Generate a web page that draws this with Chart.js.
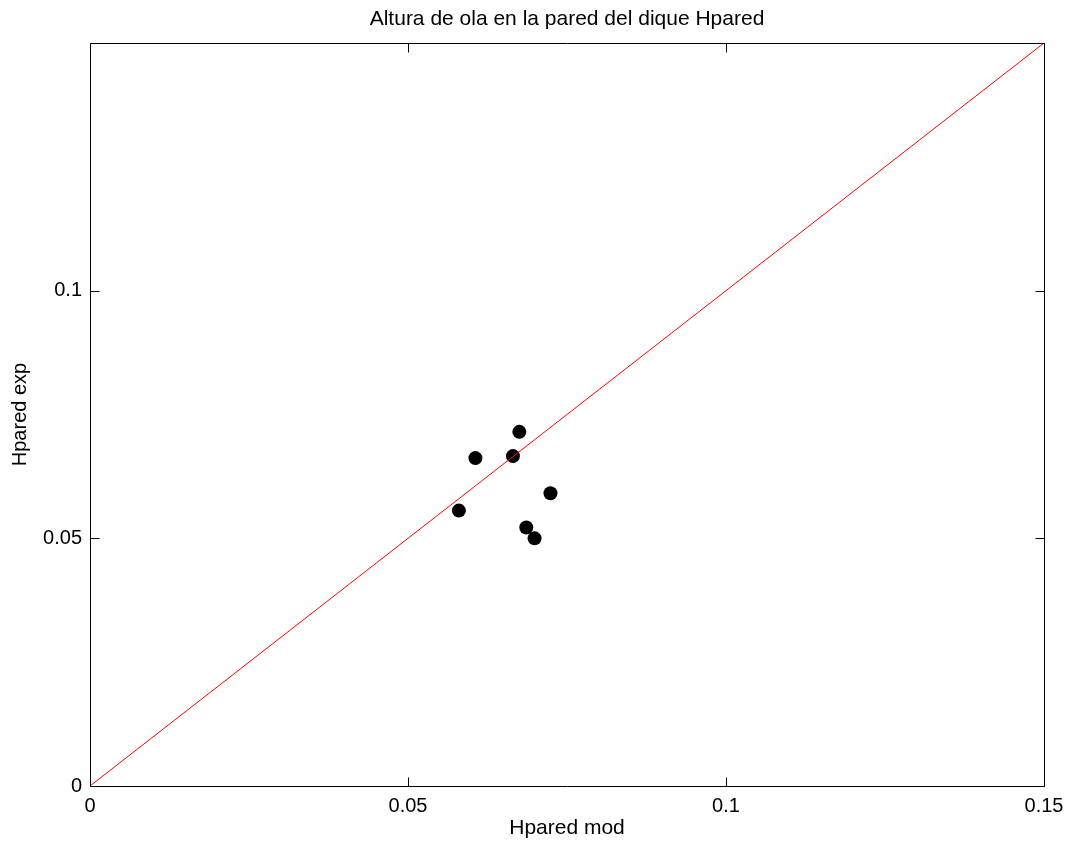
<!DOCTYPE html>
<html>
<head>
<meta charset="utf-8">
<title>Altura de ola en la pared del dique Hpared</title>
<script src="https://cdn.jsdelivr.net/npm/chart.js@4/dist/chart.umd.min.js"></script>
<style>
  html, body { margin: 0; padding: 0; background: #fff; }
  canvas { display: block; }
</style>
</head>
<body>
<canvas id="myChart" width="1074" height="843"></canvas>
<script>
// wave height at the wall: model vs. experiment
const hparedMod = [0.0580, 0.0606, 0.0665, 0.0675, 0.0724, 0.0686, 0.0699];
const hparedExp = [0.0556, 0.0662, 0.0666, 0.0715, 0.0591, 0.0522, 0.0500];

// 1:1 line
const lineX = [0, 0.15];
const lineY = [0, 0.15];

const xTicks = [0, 0.05, 0.1, 0.15];
const yTicks = [0, 0.05, 0.1];

const FAMILY = '"Liberation Sans", Arial, Helvetica, sans-serif';
const FONT = { family: FAMILY, size: 20, weight: 'normal' };
const TITLE_FONT = { family: FAMILY, size: 21, weight: 'normal', lineHeight: '24px' };

// box round the plot with inward ticks on all four sides
const frame = {
  id: 'frame',
  afterDraw(chart) {
    const { ctx, chartArea: a, scales } = chart;
    const len = 9;
    const px = v => Math.round(v) + 0.5;
    const l = px(a.left), r = px(a.right), t = px(a.top), b = px(a.bottom);
    ctx.save();
    ctx.strokeStyle = '#000';
    ctx.lineWidth = 1;
    ctx.beginPath();
    ctx.rect(l, t, r - l, b - t);
    xTicks.forEach(v => {
      const x = px(scales.x.getPixelForValue(v));
      ctx.moveTo(x, b); ctx.lineTo(x, b - len);
      ctx.moveTo(x, t); ctx.lineTo(x, t + len);
    });
    yTicks.forEach(v => {
      const y = px(scales.y.getPixelForValue(v));
      ctx.moveTo(l, y); ctx.lineTo(l + len, y);
      ctx.moveTo(r, y); ctx.lineTo(r - len, y);
    });
    ctx.stroke();
    ctx.restore();
  }
};

const ctx = document.getElementById('myChart');
new Chart(ctx, {
  type: 'scatter',
  data: {
    datasets: [{
      data: lineX.map((x, i) => ({ x: x, y: lineY[i] })),
      showLine: true,
      borderColor: '#ff0000',
      borderWidth: 1,
      pointRadius: 0,
      fill: false
    }, {
      data: hparedMod.map((x, i) => ({ x: x, y: hparedExp[i] })),
      backgroundColor: '#000',
      borderColor: '#000',
      borderWidth: 0,
      pointRadius: 7
    }]
  },
  options: {
    responsive: false,
    animation: false,
    devicePixelRatio: 1,
    layout: { padding: { left: 0, right: 30, top: 0, bottom: 0 } },
    plugins: {
      legend: { display: false },
      tooltip: { enabled: false },
      title: {
        display: true,
        fullSize: false,
        text: 'Altura de ola en la pared del dique Hpared',
        color: '#000',
        font: TITLE_FONT,
        padding: { top: 7, bottom: 12 }
      }
    },
    scales: {
      x: {
        type: 'linear',
        min: 0,
        max: 0.15,
        afterBuildTicks: s => { s.ticks = xTicks.map(v => ({ value: v })); },
        afterFit: s => { s.height = 57; },
        grid: { display: false, drawTicks: false },
        border: { display: false },
        ticks: { padding: 8, color: '#000', font: FONT, autoSkip: false, maxRotation: 0, callback: v => String(v) },
        title: { display: true, text: 'Hpared mod', color: '#000', font: TITLE_FONT, padding: { top: 0, bottom: 3 } }
      },
      y: {
        type: 'linear',
        min: 0,
        max: 0.15,
        afterBuildTicks: s => { s.ticks = yTicks.map(v => ({ value: v })); },
        afterFit: s => { s.width = 90; },
        grid: { display: false, drawTicks: false },
        border: { display: false },
        ticks: { padding: 8, color: '#000', font: FONT, autoSkip: false, callback: v => String(v) },
        title: { display: true, text: 'Hpared exp', color: '#000', font: FONT, padding: { top: 8, bottom: 0 } }
      }
    }
  },
  plugins: [frame]
});
</script>
</body>
</html>
